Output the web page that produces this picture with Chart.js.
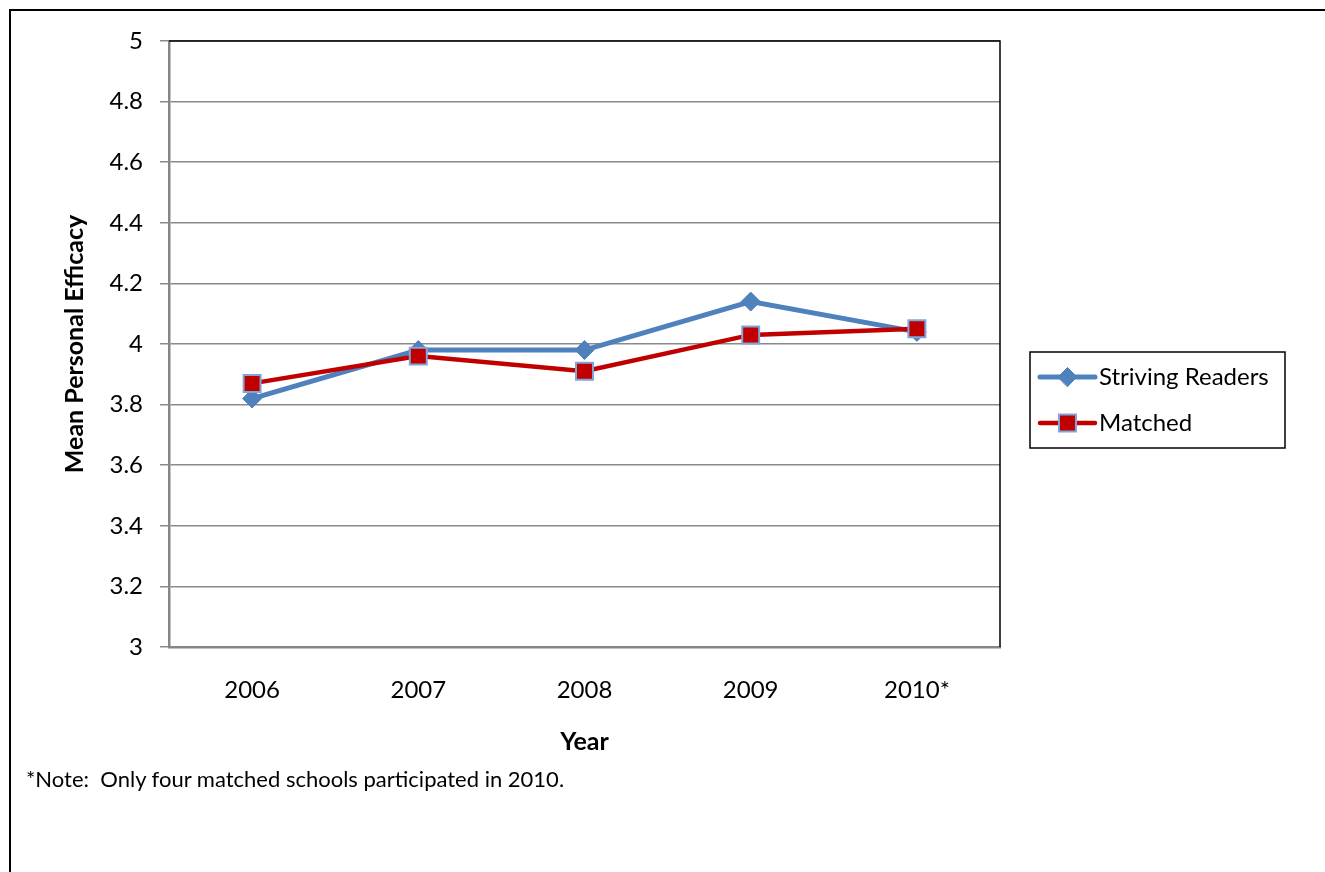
<!DOCTYPE html>
<html>
<head>
<meta charset="utf-8">
<script src="https://cdn.jsdelivr.net/npm/chart.js@4.4.0/dist/chart.umd.min.js"></script>
<style>
  html, body { margin: 0; padding: 0; background: #fff; }
  #wrap { position: relative; width: 1325px; height: 872px; overflow: hidden; }
  #frame { position: absolute; left: 9px; top: 9px; width: 1400px; height: 900px;
           border-left: 2px solid #000; border-top: 2px solid #000; }
  #chart { position: absolute; left: 0; top: 0; }
  #note { position: absolute; left: 26px; top: 765px; font: 22px Lato, sans-serif;
          color: #000; white-space: pre; }
</style>
</head>
<body>
<div id="wrap">
  <div id="frame"></div>
  <canvas id="chart" width="1325" height="872"></canvas>
  <div id="note">*Note:  Only four matched schools participated in 2010.</div>
</div>
<script>
// Mean personal efficacy by year
var years = ['2006', '2007', '2008', '2009', '2010*'];
var strivingReaders = [3.82, 3.98, 3.98, 4.14, 4.04];
var matched = [3.87, 3.96, 3.91, 4.03, 4.05];
var seriesNames = ['Striving Readers', 'Matched'];

var FONT = 'Lato, sans-serif';

// top + right edge of the plot area, plus the boxed legend on the right
var frameAndLegend = {
    id: 'frameAndLegend',
    beforeDatasetsDraw: function (chart) {
        var a = chart.chartArea, ctx = chart.ctx;
        ctx.save();
        ctx.strokeStyle = '#000';
        ctx.lineWidth = 1.5;
        ctx.beginPath();
        ctx.moveTo(a.left, a.top);
        ctx.lineTo(a.right, a.top);
        ctx.lineTo(a.right, a.bottom);
        ctx.stroke();
        ctx.restore();
    },
    afterDraw: function (chart) {
        var ctx = chart.ctx;
        var box = { x: 1030, y: 352, w: 255, h: 96 };
        ctx.save();
        ctx.strokeStyle = '#000';
        ctx.lineWidth = 1.5;
        ctx.strokeRect(box.x, box.y, box.w, box.h);

        chart.data.datasets.forEach(function (ds, i) {
            var cy = box.y + 25 + i * 46;
            var x0 = box.x + 10, x1 = box.x + 65, mx = (x0 + x1) / 2;
            ctx.strokeStyle = ds.borderColor;
            ctx.lineWidth = ds.borderWidth;
            ctx.lineCap = 'round';
            ctx.beginPath();
            ctx.moveTo(x0, cy);
            ctx.lineTo(x1, cy);
            ctx.stroke();
            ctx.fillStyle = ds.pointBackgroundColor;
            ctx.strokeStyle = ds.pointBorderColor;
            ctx.lineWidth = ds.pointBorderWidth;
            Chart.helpers.drawPoint(ctx, {
                pointStyle: ds.pointStyle,
                radius: ds.pointRadius,
                borderWidth: ds.pointBorderWidth
            }, mx, cy);
            ctx.fillStyle = '#000';
            ctx.font = '24px ' + FONT;
            ctx.textBaseline = 'middle';
            ctx.textAlign = 'left';
            ctx.fillText(ds.label, x1 + 4, cy);
        });
        ctx.restore();
    }
};

var ctx = document.getElementById('chart').getContext('2d');
var chart = new Chart(ctx, {
    type: 'line',
    data: {
        labels: years,
        datasets: [
            {
                label: seriesNames[0],
                data: strivingReaders,
                borderColor: '#4F81BD',
                backgroundColor: '#4F81BD',
                borderWidth: 5,
                pointStyle: 'rectRot',
                pointRadius: 9.5,
                pointBackgroundColor: '#4F81BD',
                pointBorderColor: '#4F81BD',
                pointBorderWidth: 1,
                order: 1,
                tension: 0,
                fill: false
            },
            {
                label: seriesNames[1],
                data: matched,
                borderColor: '#C00000',
                backgroundColor: '#C00000',
                borderWidth: 4.5,
                pointStyle: 'rect',
                pointRadius: 12,
                pointBackgroundColor: '#C00000',
                pointBorderColor: '#7EA6DA',
                pointBorderWidth: 2,
                order: 0,
                tension: 0,
                fill: false
            }
        ]
    },
    options: {
        responsive: false,
        animation: false,
        layout: { padding: { left: 0, top: 41, right: 325, bottom: 105 } },
        plugins: {
            legend: { display: false },
            tooltip: { enabled: false }
        },
        scales: {
            x: {
                offset: true,
                grid: { display: false, drawTicks: false },
                border: { display: true, color: '#868686', width: 2.5 },
                ticks: { color: '#000', font: { family: FONT, size: 24 }, padding: 29 },
                title: {
                    display: true, text: 'Year', color: '#000',
                    font: { family: FONT, size: 25, weight: 'bold' },
                    padding: { top: 0, bottom: 10 }
                },
                afterFit: function (s) { s.height = 120; }
            },
            y: {
                min: 3,
                max: 5,
                ticks: {
                    stepSize: 0.2,
                    color: '#000',
                    font: { family: FONT, size: 24 },
                    padding: 17,
                    callback: function (v) { return String(+v.toFixed(1)); }
                },
                grid: { color: '#8a8a8a', lineWidth: 1.5, tickLength: 9, tickColor: '#8a8a8a' },
                border: { display: true, color: '#868686', width: 2.5 },
                title: {
                    display: true, text: 'Mean Personal Efficacy', color: '#000',
                    font: { family: FONT, size: 25, weight: 'bold' },
                    padding: { top: 60, bottom: 0 }
                },
                afterFit: function (s) { s.width = 169; }
            }
        }
    },
    plugins: [frameAndLegend]
});
</script>
</body>
</html>
